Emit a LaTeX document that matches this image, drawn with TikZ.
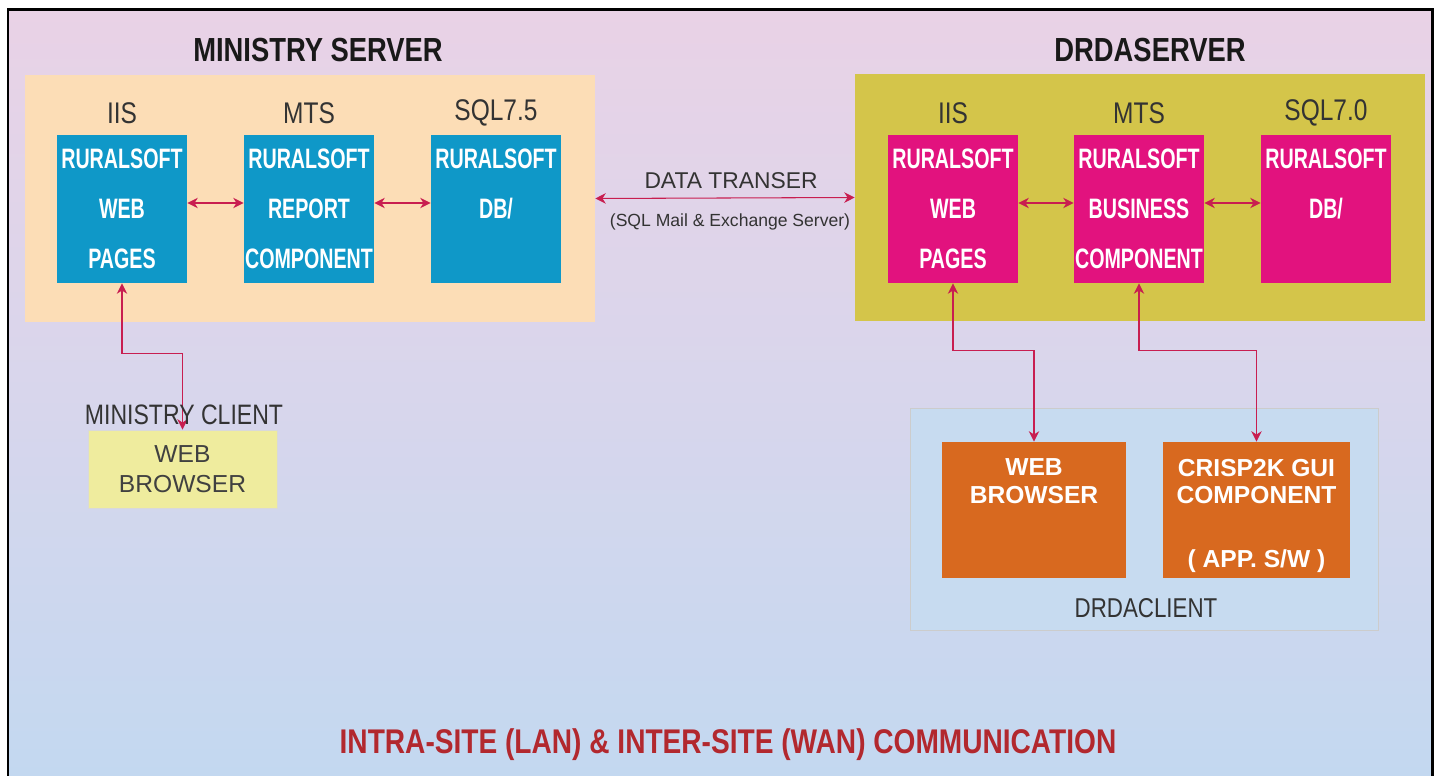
\documentclass[tikz,border=0pt]{standalone}
\usepackage{fontspec}
\setmainfont{Liberation Sans}
\newfontfamily\condfont{Liberation Sans}[FakeStretch=0.82]
\newfontfamily\narrowfont{Liberation Sans}[FakeStretch=0.7]
\usetikzlibrary{arrows.meta}
\definecolor{bgtop}{RGB}{233,210,230}
\definecolor{bgmid}{RGB}{216,214,236}
\definecolor{bgbot}{RGB}{195,216,240}
\definecolor{msrvfill}{RGB}{252,221,182}
\definecolor{dsrvfill}{RGB}{212,197,74}
\definecolor{rsblue}{RGB}{15,152,200}
\definecolor{rsmag}{RGB}{226,18,126}
\definecolor{rsorange}{RGB}{216,105,31}
\definecolor{clyellow}{RGB}{239,236,158}
\definecolor{clblue}{RGB}{199,219,240}
\definecolor{linkred}{RGB}{200,30,80}
\definecolor{capred}{RGB}{178,40,46}
\tikzset{
  server/.style={minimum width=11.4cm,minimum height=4.94cm,inner sep=0pt},
  soft/.style={minimum width=2.6cm,minimum height=2.96cm,inner sep=0pt,align=center,text=white,
    font=\narrowfont\bfseries\fontsize{16}{28.45}\selectfont},
  tier/.style={font=\condfont\fontsize{17}{20}\selectfont,text=black!80},
  title/.style={font=\condfont\bfseries\fontsize{19}{22}\selectfont,text=black!90},
  client/.style={minimum height=2.72cm,inner sep=0pt,fill=rsorange},
  ctext/.style={align=center,text=white,font=\bfseries\fontsize{14}{15.9}\selectfont},
  link/.style={<->,draw=linkred,line width=0.6pt},
}
\begin{document}
\begin{tikzpicture}[x=0.02cm,y=-0.02cm,>={Stealth[length=6pt,width=6pt]}]
\useasboundingbox (0,0) rectangle (1437,776);
\shade[top color=bgtop,bottom color=bgbot,middle color=bgmid] (8,10) rectangle (1432,776);
\draw[line width=1.7pt] (8,776) -- (8,10) -- (1432,10) -- (1432,776);
% ministry server
\node[server,fill=msrvfill] (msrv) at (310,198.5) {};
\node[title] (msrvt) at (318,50) {MINISTRY SERVER};
\node[tier] (miis) at (122,113) {IIS};
\node[tier] (mmts) at (309,113) {MTS};
\node[tier] (msql) at (496,113) {SQL7.5};
\node[soft,fill=rsblue] (mweb) at (122,209) {RURALSOFT\\WEB\\PAGES};
\node[soft,fill=rsblue] (mrep) at (309,209) {RURALSOFT\\REPORT\\COMPONENT};
\node[soft,fill=rsblue] (mdb) at (496,209) {RURALSOFT\\DB/\\\vphantom{P}};
\draw[link] ([yshift=0.12cm]mweb.east) -- ([yshift=0.12cm]mrep.west);
\draw[link] ([yshift=0.12cm]mrep.east) -- ([yshift=0.12cm]mdb.west);
% drda server
\node[server,fill=dsrvfill] (dsrv) at (1140,197.5) {};
\node[title] (dsrvt) at (1150,50) {DRDASERVER};
\node[tier] (diis) at (953,113) {IIS};
\node[tier] (dmts) at (1139,113) {MTS};
\node[tier] (dsql) at (1326,113) {SQL7.0};
\node[soft,fill=rsmag] (dweb) at (953,209) {RURALSOFT\\WEB\\PAGES};
\node[soft,fill=rsmag] (dbus) at (1139,209) {RURALSOFT\\BUSINESS\\COMPONENT};
\node[soft,fill=rsmag] (ddb) at (1326,209) {RURALSOFT\\DB/\\\vphantom{P}};
\draw[link] ([yshift=0.12cm]dweb.east) -- ([yshift=0.12cm]dbus.west);
\draw[link] ([yshift=0.12cm]dbus.east) -- ([yshift=0.12cm]ddb.west);
% data transfer
\draw[link] (msrv.east) -- (dsrv.west);
\node[font=\fontsize{13}{15}\selectfont,text=black!80] (dtt) at (731,181) {DATA TRANSER};
\node[font=\fontsize{10}{12}\selectfont,text=black!80] (dts) at (730,222) {(SQL Mail \& Exchange Server)};
% ministry client
\node[draw=black!15,fill=clyellow,minimum width=3.78cm,minimum height=1.56cm,align=center,
  font=\fontsize{14}{17}\selectfont,text=black!75] (mbr) at (182.5,469) {WEB\\BROWSER};
\draw[link] (mweb.south) -- ++(0,70) -| (mbr.north);
\node[font=\condfont\fontsize{16}{18}\selectfont,text=black!80] (mcl) at (184,415) {MINISTRY CLIENT};
% drda client
\node[draw=black!20,fill=clblue,minimum width=9.36cm,minimum height=4.44cm] (dcl) at (1144,519) {};
\node[font=\condfont\fontsize{15.5}{18}\selectfont,text=black!80] (dclt) at (1146,608) {DRDACLIENT};
\node[client,minimum width=3.68cm] (dbr) at (1034,510) {};
\node[client,minimum width=3.74cm] (dcr) at (1256.5,510) {};
\node[ctext,anchor=north] (dbrt) at ([yshift=-0.22cm]dbr.north) {WEB\\BROWSER};
\node[ctext,anchor=north] (dcrt) at ([yshift=-0.22cm]dcr.north) {CRISP2K GUI\\COMPONENT\\[0.72cm]( APP. S/W )};
\draw[link] (dweb.south) -- ++(0,67) -| (dbr.north);
\draw[link] (dbus.south) -- ++(0,67) -| (dcr.north);
% bottom caption
\node[font=\condfont\bfseries\fontsize{19.5}{22}\selectfont,text=capred] (comm) at (728,745)
  {INTRA-SITE (LAN) \& INTER-SITE (WAN) COMMUNICATION};
\end{tikzpicture}
\end{document}
